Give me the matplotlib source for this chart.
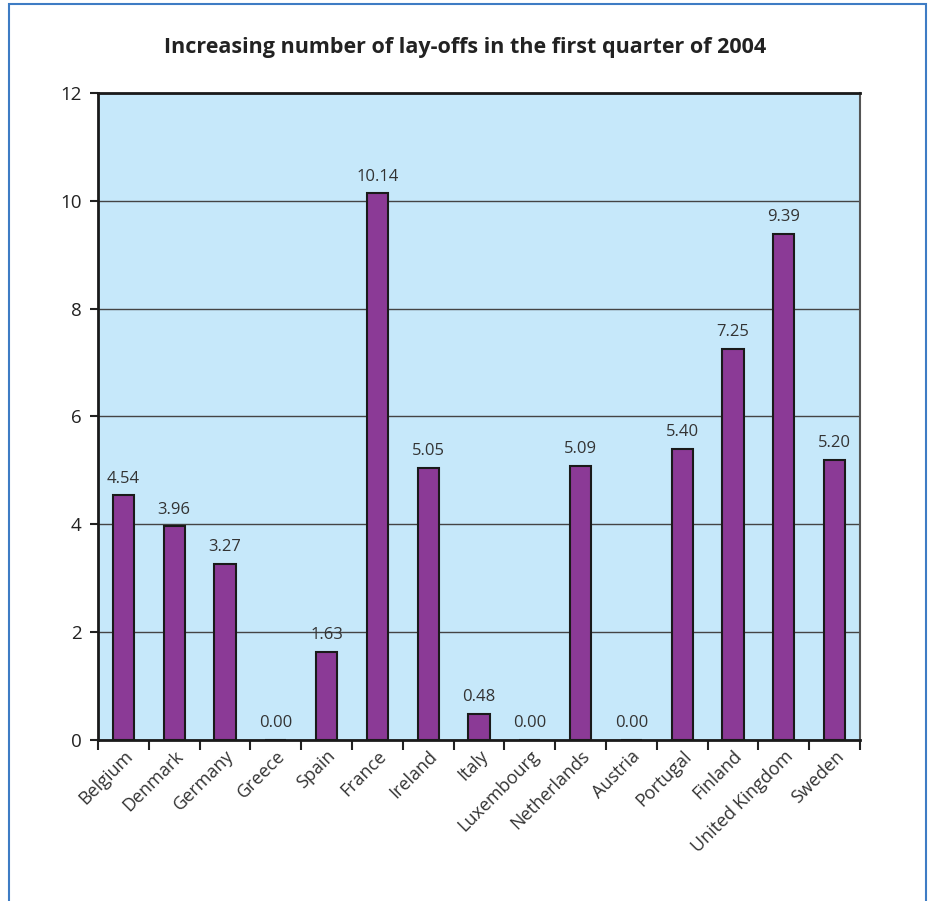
import matplotlib.pyplot as plt
from matplotlib.patches import Rectangle
import numpy as np

plt.rcParams['font.family'] = ['Open Sans', 'DejaVu Sans']

countries = ['Belgium', 'Denmark', 'Germany', 'Greece', 'Spain', 'France', 'Ireland', 'Italy',
             'Luxembourg', 'Netherlands', 'Austria', 'Portugal', 'Finland', 'United Kingdom', 'Sweden']
layoffs = [4.54, 3.96, 3.27, 0.00, 1.63, 10.14, 5.05, 0.48, 0.00, 5.09, 0.00, 5.40, 7.25, 9.39, 5.20]
y_ticks = [0, 2, 4, 6, 8, 10, 12]

fig = plt.figure(figsize=(9.3, 9.01), dpi=100)
ax = fig.add_axes([0.1054, 0.1787, 0.8193, 0.7181])

# blue frame around the whole chart
fig.patches.append(Rectangle((9 / 930, -0.1), 917 / 930, 1.1 - 4 / 901, transform=fig.transFigure,
                             fill=False, edgecolor='#3E7CC4', linewidth=1.5, clip_on=False))

ax.set_facecolor('#C6E8FA')
x = np.arange(len(countries))
ax.bar(x, layoffs, width=0.42, color='#8B3A96', edgecolor='#1a1a1a', linewidth=1.5, zorder=3)

for xi, v in zip(x, layoffs):
    ax.text(xi, v + 0.16, f'{v:.2f}', ha='center', va='bottom', fontsize=12, color='#333333', zorder=4)

ax.set_xlim(-0.5, len(countries) - 0.5)
ax.set_ylim(0, 12)
ax.set_yticks(y_ticks)
ax.set_yticklabels([str(t) for t in y_ticks], fontsize=13.5, color='#222222')
ax.yaxis.grid(True, color='#444444', linewidth=1.0, zorder=1)
ax.set_axisbelow(True)

ax.set_xticks(np.arange(-0.5, len(countries), 1.0))
ax.set_xticklabels([])
ax.set_xticks(x, minor=True)
ax.set_xticklabels(countries, minor=True, rotation=45, ha='right', rotation_mode='anchor',
                   fontsize=13, color='#333333')
ax.tick_params(axis='x', which='major', length=7, width=1.5, color='#222222', direction='out')
ax.tick_params(axis='x', which='minor', length=0, pad=5)
ax.tick_params(axis='y', length=6, width=1.5, color='#222222', pad=6)

for side in ['left', 'top', 'bottom']:
    ax.spines[side].set_color('#1a1a1a')
    ax.spines[side].set_linewidth(2)
ax.spines['right'].set_color('#555555')
ax.spines['right'].set_linewidth(1.5)

fig.text(0.5, 1 - 47 / 901, 'Increasing number of lay-offs in the first quarter of 2004',
         ha='center', va='center', fontsize=15.5, fontweight='bold', color='#222222')

plt.savefig('out.png', dpi=100)
